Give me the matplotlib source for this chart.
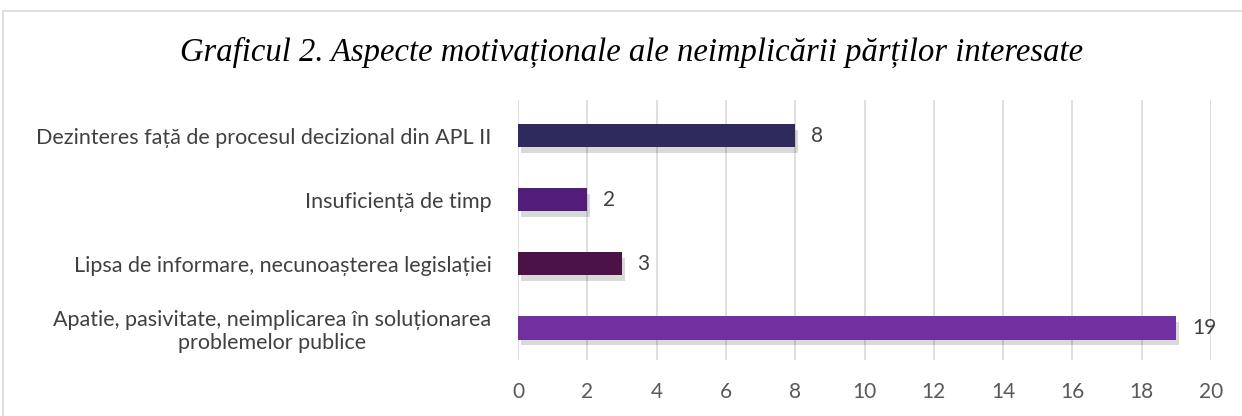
import matplotlib
matplotlib.use("Agg")
import matplotlib.pyplot as plt
import matplotlib.patheffects as pe
from matplotlib.patches import Rectangle

categories = [
    "Apatie, pasivitate, neimplicarea în soluționarea\nproblemelor publice",
    "Lipsa de informare, necunoașterea legislației",
    "Insuficiență de timp",
    "Dezinteres față de procesul decizional din APL II",
]
values = [19, 3, 2, 8]
colors = ["#7030A0", "#4B1248", "#521D78", "#2E2A5E"]
xticks = [0, 2, 4, 6, 8, 10, 12, 14, 16, 18, 20]
title = "Graficul 2. Aspecte motivaționale ale neimplicării părților interesate"

W, H = 1242, 416
fig = plt.figure(figsize=(W / 100, H / 100), dpi=100)
fig.patch.set_facecolor("white")

# outer frame
fig.patches.append(Rectangle((3 / W, -0.1), 1.2, (H - 11) / H + 0.1,
                             transform=fig.transFigure, fill=False,
                             edgecolor="#D9D9D9", linewidth=1.2))

ax = fig.add_axes([518 / W, (H - 360) / H, (1211 - 518) / W, (360 - 100) / H])
ypos = list(range(len(categories)))
bars = ax.barh(ypos, values, height=0.36, color=colors, zorder=3)
for b in bars:
    b.set_path_effects([pe.SimplePatchShadow(offset=(2, -4), shadow_rgbFace="#000000", alpha=0.15),
                        pe.Normal()])

for y, v in zip(ypos, values):
    ax.text(v + 0.45, y, str(v), va="center", ha="left", fontsize=15,
            color="#404040", family="Lato")

ax.set_xlim(0, 20)
ax.set_ylim(-0.5, 3.56)
ax.set_xticks(xticks)
ax.set_xticklabels([str(t) for t in xticks], fontsize=15, color="#595959", family="Lato")
ax.set_yticks(ypos)
ax.set_yticklabels(categories, fontsize=15.5, color="#404040", family="Lato")
ax.tick_params(axis="both", length=0)
ax.tick_params(axis="x", pad=16)
ax.tick_params(axis="y", pad=19)
for lab in ax.get_yticklabels():
    lab.set_horizontalalignment("right")
    lab.set_multialignment("center")
ax.grid(axis="x", color="#D9D9D9", linewidth=1.2, zorder=0)
for s in ax.spines.values():
    s.set_visible(False)

fig.text(632 / W, 1 - 52 / H, title, ha="center", va="center", fontsize=23.5,
         style="italic", family="Liberation Serif", color="#000000")

fig.savefig("out.png", dpi=100, facecolor="white")
